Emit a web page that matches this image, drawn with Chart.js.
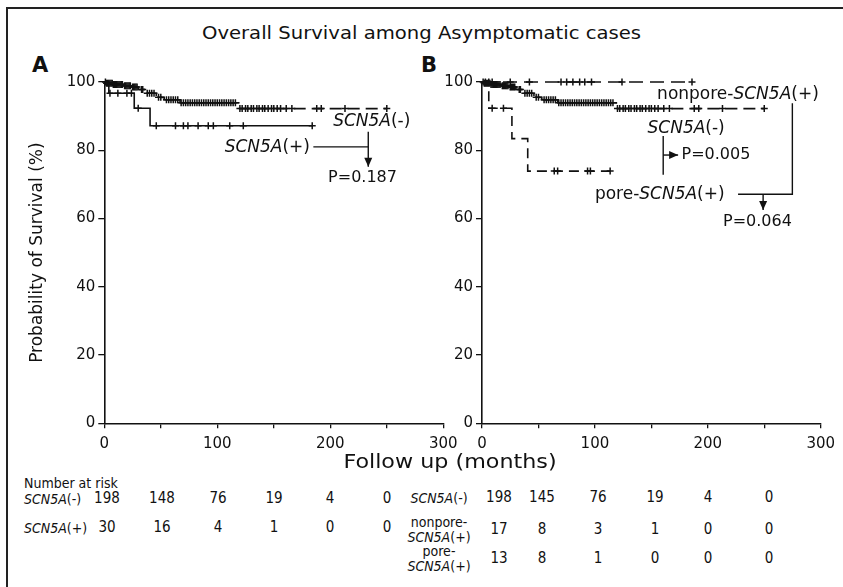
<!DOCTYPE html>
<html>
<head>
<meta charset="utf-8">
<script src="https://cdn.jsdelivr.net/npm/chart.js@4.4.1/dist/chart.umd.min.js"></script>
<style>
  html, body { margin: 0; padding: 0; background: #fff; }
  #page { position: relative; width: 843px; height: 587px; overflow: hidden; font-family: "DejaVu Sans", sans-serif; color: #111; }
  #frame { position: absolute; left: 6px; top: 7px; width: 900px; height: 700px; border-left: 2px solid #222; border-top: 2px solid #222; }
  canvas { position: absolute; top: 0; }
  .abs { position: absolute; white-space: nowrap; }
  .risk { position: absolute; white-space: nowrap; font-family: "Liberation Sans Narrow", "DejaVu Sans Condensed", sans-serif; font-size: 14px; transform: translate(-50%, -50%); line-height: 1.05; text-align: center; }
  .num { font-size: 15px; }
</style>
</head>
<body>
<div id="page">
  <div id="frame"></div>
  <div class="abs" style="left:0;width:843px;top:22px;text-align:center;font-size:18px;transform:scaleX(1.09);">Overall Survival among Asymptomatic cases</div>
  <div class="abs" style="left:32px;top:53px;font-size:21px;font-weight:bold;">A</div>
  <div class="abs" style="left:421px;top:53px;font-size:21px;font-weight:bold;">B</div>
  <canvas id="chartA" width="470" height="470" style="left:0"></canvas>
  <canvas id="chartB" width="413" height="470" style="left:430px"></canvas>
  <div class="abs" style="left:250px;width:400px;top:450px;text-align:center;font-size:19px;transform:scaleX(1.17);">Follow up (months)</div>
  <div id="risk"></div>
</div>
<script>
// Kaplan-Meier steps (months, % surviving)
const negTimes = [0, 2, 8, 17, 24, 30, 36, 46, 53, 67, 119, 250];
const negSurv  = [100, 99.6, 99.3, 98.9, 98.5, 97.8, 96.7, 95.5, 94.8, 93.9, 92.2, 92.2];
const negCensor = [1, 2, 3, 4, 5, 6, 7, 8, 9, 10, 11, 12, 13, 14, 15, 16, 18, 19, 20, 21, 22, 23, 25, 26, 27, 28, 29,
  33, 34, 38, 40, 42, 44, 48, 50, 55, 57, 59, 61, 63, 65,
  68, 70, 72, 74, 76, 78, 80, 82, 84, 86, 88, 90, 92, 94, 96, 98, 100, 102, 104, 106, 108, 110, 112, 114, 116,
  120, 122, 125, 127, 130, 132, 135, 137, 140, 142, 145, 148, 150, 153, 156, 161, 166, 188, 192, 213, 250];

const posTimes = [0, 4, 26.5, 40.5, 184];
const posSurv  = [100, 96.7, 92.3, 87.2, 87.2];
const posCensor = [5, 12, 20, 24, 30, 46, 63, 70, 74, 83, 92, 96.5, 111, 123, 184];

const nonporeTimes = [0, 186];
const nonporeSurv  = [100, 100];
const nonporeCensor = [3, 6, 9, 25, 42, 70, 75, 80.5, 86.5, 91, 97, 124, 186];

const poreTimes = [0, 6, 26.5, 40.5, 113.5];
const poreSurv  = [100, 92.3, 83.4, 73.9, 73.9];
const poreCensor = [9, 19, 64, 67, 93.5, 96, 113.5];

// Number at risk
const riskA_neg  = [198, 148, 76, 19, 4, 0];
const riskA_pos  = [30, 16, 4, 1, 0, 0];
const riskB_neg  = [198, 145, 76, 19, 4, 0];
const riskB_non  = [17, 8, 3, 1, 0, 0];
const riskB_pore = [13, 8, 1, 0, 0, 0];

const xTicks = [0, 50, 100, 150, 200, 250, 300];
const yTicks = [0, 20, 40, 60, 80, 100];

const INK = '#111';

function survAt(times, surv, t) {
  let s = surv[0];
  for (let i = 0; i < times.length; i++) if (times[i] <= t) s = surv[i];
  return s;
}
function curve(times, surv, dash) {
  return {
    data: times.map((t, i) => ({ x: t, y: surv[i] })),
    showLine: true, stepped: true, pointRadius: 0,
    borderColor: INK, borderWidth: 1.6, borderDash: dash, clip: false
  };
}
function marks(times, surv, censor) {
  return {
    data: censor.map(t => ({ x: t, y: survAt(times, surv, t) })),
    showLine: false, pointStyle: 'cross', pointRadius: 3.5,
    borderColor: INK, borderWidth: 1.5, clip: false
  };
}

// annotation plugin (labels, connectors, arrows) in data units
const annPlugin = {
  id: 'ann',
  afterDatasetsDraw(chart) {
    const list = chart.options.plugins.ann.items || [];
    const { ctx, scales: { x, y } } = chart;
    ctx.save();
    ctx.strokeStyle = INK; ctx.fillStyle = INK; ctx.lineWidth = 1.4;
    ctx.textBaseline = 'middle';
    list.forEach(a => {
      if (a.line) {
        const p = a.line.map(([u, v]) => [x.getPixelForValue(u), y.getPixelForValue(v)]);
        ctx.beginPath();
        ctx.moveTo(p[0][0], p[0][1]);
        p.slice(1).forEach(q => ctx.lineTo(q[0], q[1]));
        ctx.stroke();
        if (a.arrow) {
          const [x0, y0] = p[p.length - 2], [x1, y1] = p[p.length - 1];
          const ang = Math.atan2(y1 - y0, x1 - x0);
          ctx.beginPath();
          ctx.moveTo(x1, y1);
          ctx.lineTo(x1 - 9 * Math.cos(ang) + 4 * Math.sin(ang), y1 - 9 * Math.sin(ang) - 4 * Math.cos(ang));
          ctx.lineTo(x1 - 9 * Math.cos(ang) - 4 * Math.sin(ang), y1 - 9 * Math.sin(ang) + 4 * Math.cos(ang));
          ctx.closePath();
          ctx.fill();
        }
      } else if (a.text) {
        const size = a.size || 17;
        const fonts = a.text.map(([, it]) => (it ? 'italic ' : '') + size + 'px "DejaVu Sans"');
        const widths = a.text.map(([s], i) => { ctx.font = fonts[i]; return ctx.measureText(s).width; });
        const total = widths.reduce((m, w) => m + w, 0);
        let px = x.getPixelForValue(a.x);
        if (a.align === 'right') px -= total;
        if (a.align === 'center') px -= total / 2;
        const py = y.getPixelForValue(a.y);
        ctx.textAlign = 'left';
        a.text.forEach(([s], i) => { ctx.font = fonts[i]; ctx.fillText(s, px, py); px += widths[i]; });
      }
    });
    ctx.restore();
  }
};

function makeChart(id, datasets, items, pad, yWidth, yTitle) {
  return new Chart(document.getElementById(id), {
    type: 'scatter',
    data: { datasets },
    plugins: [annPlugin],
    options: {
      responsive: false, animation: false, devicePixelRatio: 1,
      layout: { padding: pad },
      plugins: { legend: { display: false }, tooltip: { enabled: false }, ann: { items } },
      scales: {
        x: {
          type: 'linear', min: 0, max: 300,
          afterBuildTicks: s => { s.ticks = xTicks.map(v => ({ value: v })); },
          ticks: { autoSkip: false, maxRotation: 0, padding: 7, color: INK,
                   font: { family: '"DejaVu Sans"', size: 15 },
                   callback: v => (v % 100 === 0 ? v : '') },
          grid: { drawOnChartArea: false, drawTicks: true, tickLength: 5, color: INK, lineWidth: 1.3 },
          border: { color: INK, width: 1.6 },
          afterFit: s => { s.height = 30; }
        },
        y: {
          type: 'linear', min: 0, max: 100,
          afterBuildTicks: s => { s.ticks = yTicks.map(v => ({ value: v })); },
          ticks: { autoSkip: false, padding: 3, color: INK, font: { family: '"DejaVu Sans"', size: 15 } },
          grid: { drawOnChartArea: false, drawTicks: true, tickLength: 6, color: INK, lineWidth: 1.3 },
          border: { color: INK, width: 1.6 },
          title: { display: !!yTitle, text: yTitle || '', color: INK, font: { family: '"DejaVu Sans"', size: 17 }, padding: 0 },
          afterFit: s => { s.width = yWidth; }
        }
      }
    }
  });
}

makeChart('chartA', [
  curve(negTimes, negSurv, [12, 6]),
  marks(negTimes, negSurv, negCensor),
  curve(posTimes, posSurv, []),
  marks(posTimes, posSurv, posCensor)
], [
  { text: [['SCN5A', true], ['(-)', false]], x: 202.5, y: 88.3, align: 'left' },
  { text: [['SCN5A', true], ['(+)', false]], x: 182, y: 80.7, align: 'right' },
  { line: [[185, 81.0], [233.6, 81.0]] },
  { line: [[233.6, 85.4], [233.6, 75.2]], arrow: true },
  { text: [['P=0.187', false]], x: 228.5, y: 72, align: 'center', size: 16 }
], { top: 82, left: 27.3, right: 26.7, bottom: 16.7 }, 77, 'Probability of Survival (%)');

makeChart('chartB', [
  curve(negTimes, negSurv, [12, 6]),
  marks(negTimes, negSurv, negCensor),
  curve(nonporeTimes, nonporeSurv, [14, 7]),
  marks(nonporeTimes, nonporeSurv, nonporeCensor),
  curve(poreTimes, poreSurv, [10, 6]),
  marks(poreTimes, poreSurv, poreCensor)
], [
  { text: [['nonpore-', false], ['SCN5A', true], ['(+)', false]], x: 155.1, y: 96.3, align: 'left' },
  { text: [['SCN5A', true], ['(-)', false]], x: 146.6, y: 86.4, align: 'left' },
  { line: [[160.5, 84.2], [160.5, 72.8]] },
  { line: [[160.5, 78.6], [173.7, 78.6]], arrow: true },
  { text: [['P=0.005', false]], x: 176.7, y: 78.6, align: 'left', size: 16 },
  { text: [['pore-', false], ['SCN5A', true], ['(+)', false]], x: 100, y: 66.9, align: 'left' },
  { line: [[226.8, 67.1], [274.9, 67.1], [274.9, 93.8]] },
  { line: [[249, 67.1], [249, 62.5]], arrow: true },
  { text: [['P=0.064', false]], x: 213.5, y: 59.1, align: 'left', size: 16 }
], { top: 82, left: 5, right: 22.3, bottom: 16.7 }, 47, null);

// number-at-risk table
const colsA = [107, 162, 218, 274, 330, 387];
const colsB = [499, 542, 598, 655, 708, 769];
const riskRows = [
  { vals: riskA_neg, cols: colsA, y: 499 },
  { vals: riskA_pos, cols: colsA, y: 528 },
  { vals: riskB_neg, cols: colsB, y: 498 },
  { vals: riskB_non, cols: colsB, y: 530 },
  { vals: riskB_pore, cols: colsB, y: 559 }
];
const riskLabels = [
  { html: 'Number at risk', x: 24, y: 483, left: true },
  { html: '<i>SCN5A</i>(-)', x: 24, y: 499, left: true },
  { html: '<i>SCN5A</i>(+)', x: 24, y: 528, left: true },
  { html: '<i>SCN5A</i>(-)', x: 439, y: 498 },
  { html: 'nonpore-<br><i>SCN5A</i>(+)', x: 439, y: 530 },
  { html: 'pore-<br><i>SCN5A</i>(+)', x: 439, y: 559 }
];
const riskEl = document.getElementById('risk');
riskRows.forEach(r => r.vals.forEach((v, i) => {
  const d = document.createElement('div');
  d.className = 'risk num';
  d.style.left = r.cols[i] + 'px'; d.style.top = r.y + 'px';
  d.textContent = v;
  riskEl.appendChild(d);
}));
riskLabels.forEach(l => {
  const d = document.createElement('div');
  d.className = 'risk';
  d.innerHTML = l.html;
  d.style.top = l.y + 'px';
  if (l.left) { d.style.left = l.x + 'px'; d.style.transform = 'translate(0, -50%)'; }
  else d.style.left = l.x + 'px';
  riskEl.appendChild(d);
});
</script>
</body>
</html>
